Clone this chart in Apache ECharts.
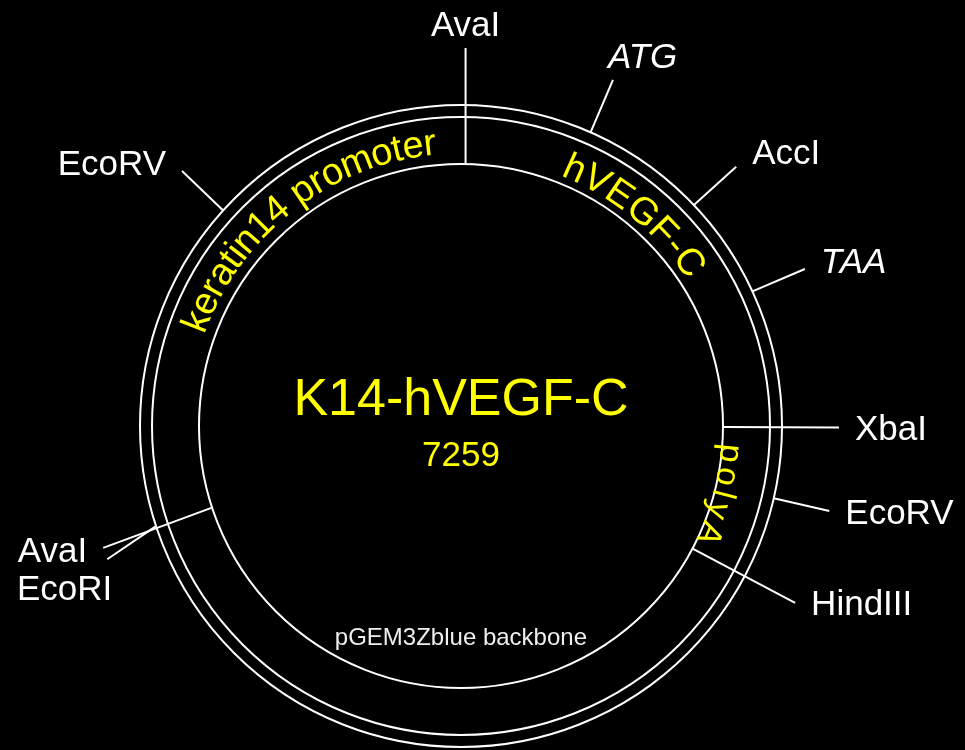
<!DOCTYPE html>
<html>
<head>
<meta charset="utf-8">
<style>
  html, body { margin: 0; padding: 0; background: #000; }
  #map { width: 965px; height: 750px; }
</style>
<script src="https://cdn.jsdelivr.net/npm/echarts@6/dist/echarts.min.js"></script>
</head>
<body>
<div id="map"></div>
<script>
// plasmid
const plasmidName = "K14-hVEGF-C";
const plasmidLength = 7259;

// sites (bp). leader end can differ from cut position when labels crowd
const siteNames = ["AvaI", "ATG", "AccI", "TAA", "XbaI", "EcoRV", "HindIII", "AvaI", "EcoRI", "EcoRV"];
const sitePos = [20, 480, 938, 1315, 1819, 2077, 2377, 5078, 5078, 6295];
const siteLeaderEnd = [14, 478, 942, 1320, 1819, 2077, 2377, 5065, 5028, 6300];
const siteFromInner = [true, false, false, false, true, false, true, true, false, false];
const siteLabelSide = ["top", "top", "right", "right", "right", "right", "right", "left", "bottom", "left"];
const codons = ["ATG", "TAA"];

// feature labels written along the ring (bp range the text covers)
const featureNames = ["keratin14 promoter", "hVEGF-C", "polyA"];
const featureStart = [5840, 438, 1893];
const featureEnd = [7158, 1153, 2332];

const backboneName = "pGEM3Zblue backbone";
const backbonePos = 3630;

// layout / style
const ringRadii = [262, 309, 321];
const leaderRadius = 378;
const featureLabelStyle = {
  "keratin14 promoter": { radius: 283, size: 38 },
  "hVEGF-C": { radius: 280, size: 38 },
  "polyA": { radius: 270, size: 33 }
};
const FONT = '"Liberation Sans", Arial, Helvetica, sans-serif';
const YELLOW = "#ffff00";

const measureCtx = document.createElement("canvas").getContext("2d");

function ringItem(params, api) {
  const c = api.coord([0, 0]);
  const p = api.coord([api.value(0), 0]);
  return {
    type: "circle",
    shape: { cx: c[0], cy: c[1], r: Math.hypot(p[0] - c[0], p[1] - c[1]) },
    style: { fill: "none", stroke: "#fff", lineWidth: 2 }
  };
}

function siteItem(params, api) {
  const i = params.dataIndex;
  const c = api.coord([0, 0]);
  const a = api.coord([siteFromInner[i] ? ringRadii[0] : ringRadii[2], api.value(0)]);
  const b = api.coord([leaderRadius, api.value(1)]);
  const th = Math.atan2(b[0] - c[0], c[1] - b[1]);
  const sin = Math.sin(th), cos = Math.cos(th);
  let x, y, align, va;
  switch (siteLabelSide[i]) {
    case "right":
      x = b[0] + 16; y = b[1] + 3 - Math.max(cos, 0) * 22; align = "left"; va = "middle";
      break;
    case "left":
      x = b[0] - 16; y = b[1] + 1 - cos * 10; align = "right"; va = "middle";
      break;
    case "top":
      align = sin > 0.2 ? "left" : sin < -0.2 ? "right" : "center";
      x = b[0] + (align === "left" ? -5 : align === "right" ? 5 : 0);
      y = b[1] - 4; va = "bottom";
      break;
    default:
      align = sin > 0.2 ? "left" : sin < -0.2 ? "right" : "center";
      x = b[0] + (align === "right" ? 5 : 0); y = b[1] + 14; va = "top";
  }
  const name = siteNames[i];
  const italic = codons.indexOf(name) >= 0 ? "italic " : "";
  return {
    type: "group",
    children: [
      {
        type: "line",
        shape: { x1: a[0], y1: a[1], x2: b[0], y2: b[1] },
        style: { stroke: "#fff", lineWidth: 2 }
      },
      {
        type: "text",
        x: x, y: y,
        style: { text: name, align: align, verticalAlign: va, fill: "#fff", font: italic + "35px " + FONT }
      }
    ]
  };
}

// one text element per character, laid along the arc
function featureItem(params, api) {
  const name = featureNames[params.dataIndex];
  const st = featureLabelStyle[name];
  const start = api.value(0), end = api.value(1);
  const c = api.coord([0, 0]);
  const p0 = api.coord([st.radius, start]);
  const rPx = Math.hypot(p0[0] - c[0], p0[1] - c[1]);
  const pxPerBp = 2 * Math.PI * rPx / plasmidLength;
  const font = st.size + "px " + FONT;
  measureCtx.font = font;
  const chars = name.split("");
  const widths = chars.map(ch => measureCtx.measureText(ch).width);
  const natural = widths.reduce((s, w) => s + w, 0);
  const span = (end - start) * pxPerBp;
  const gap = Math.max(0, (span - natural) / (chars.length - 1));
  let s = (span - natural - gap * (chars.length - 1)) / 2;
  const children = [];
  chars.forEach((ch, k) => {
    const bp = start + (s + widths[k] / 2) / pxPerBp;
    const p = api.coord([st.radius, bp]);
    const ang = Math.atan2(p[0] - c[0], c[1] - p[1]);
    children.push({
      type: "text",
      x: p[0], y: p[1],
      rotation: -ang,
      style: { text: ch, x: 0, y: 0, align: "center", verticalAlign: "middle", fill: YELLOW, font: font }
    });
    s += widths[k] + gap;
  });
  return { type: "group", children: children };
}

function backboneItem(params, api) {
  const p = api.coord([212, api.value(0)]);
  return {
    type: "text",
    x: p[0], y: p[1],
    style: { text: backboneName, align: "center", verticalAlign: "middle", fill: "#eee", font: "24px " + FONT }
  };
}

const chart = echarts.init(document.getElementById("map"));
chart.setOption({
  backgroundColor: "#000",
  animation: false,
  polar: { center: [461, 426], radius: 321 },
  angleAxis: {
    type: "value", min: 0, max: plasmidLength, startAngle: 90, clockwise: true,
    axisLine: { show: false }, axisTick: { show: false }, axisLabel: { show: false }, splitLine: { show: false }
  },
  radiusAxis: {
    type: "value", min: 0, max: ringRadii[2],
    axisLine: { show: false }, axisTick: { show: false }, axisLabel: { show: false }, splitLine: { show: false }
  },
  graphic: [
    {
      type: "text", x: 461, y: 401,
      style: { text: plasmidName, align: "center", verticalAlign: "middle", fill: YELLOW, font: "52px " + FONT }
    },
    {
      type: "text", x: 461, y: 456,
      style: { text: String(plasmidLength), align: "center", verticalAlign: "middle", fill: YELLOW, font: "35px " + FONT }
    }
  ],
  series: [
    { type: "custom", coordinateSystem: "polar", silent: true, data: ringRadii.map(r => [r, 0]), renderItem: ringItem },
    { type: "custom", coordinateSystem: "polar", silent: true, data: sitePos.map((p, i) => [p, siteLeaderEnd[i]]), renderItem: siteItem },
    { type: "custom", coordinateSystem: "polar", silent: true, data: featureStart.map((s, i) => [s, featureEnd[i]]), renderItem: featureItem },
    { type: "custom", coordinateSystem: "polar", silent: true, data: [[backbonePos, 0]], renderItem: backboneItem }
  ]
});
</script>
</body>
</html>
